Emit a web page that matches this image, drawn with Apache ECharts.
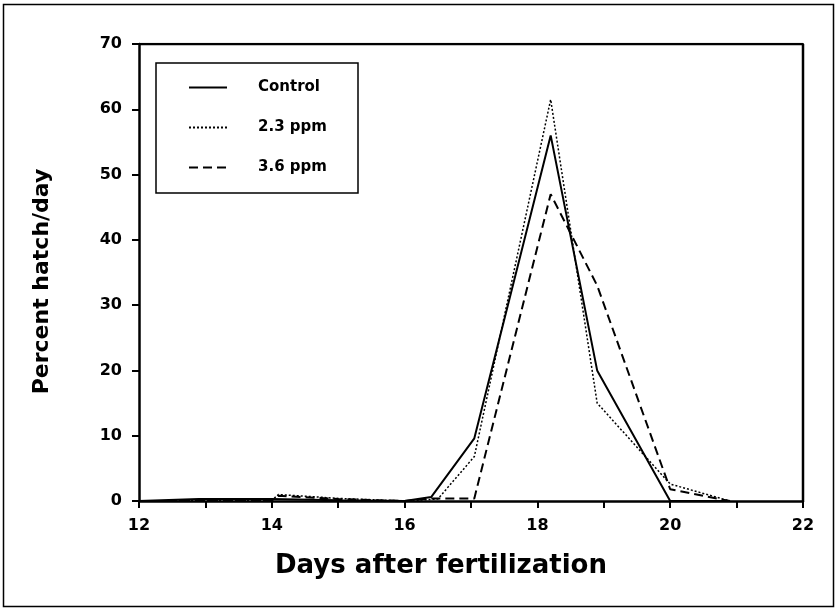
<!DOCTYPE html>
<html>
<head>
<meta charset="utf-8">
<script src="https://cdn.jsdelivr.net/npm/echarts@6/dist/echarts.min.js"></script>
<style>html,body{margin:0;padding:0;background:#fff}#c{width:838px;height:609px}</style>
</head>
<body>
<div id="c"></div>
<script>
// Data (x = days after fertilization, y = percent hatch/day)
const controlData = [[12,0],[12.9,0.3],[14,0.3],[15,0.1],[16,0],[16.4,0.6],[17.05,9.6],[18.2,56],[18.9,20],[20,0],[20.9,0]];
const ppm23Data = [[12,0],[14,0.1],[14.1,1.0],[15,0.4],[16,0],[16.5,0.3],[17.05,6.8],[18.2,61.5],[18.9,15],[20,2.6],[20.9,0]];
const ppm36Data = [[12,0],[14,0.1],[14.1,0.8],[15,0.3],[16,0],[16.4,0.4],[17.05,0.4],[18.2,47],[18.9,33],[20,1.8],[20.9,0]];
const seriesNames = ['Control','2.3 ppm','3.6 ppm'];
const xTickLabels = [12,14,16,18,20,22];
const yTickLabels = [0,10,20,30,40,50,60,70];

const font = '"DejaVu Sans", "Liberation Sans", Arial, sans-serif';
const chart = echarts.init(document.getElementById('c'), null, {renderer:'canvas'});
chart.setOption({
  animation:false,
  backgroundColor:'#fff',
  graphic:[
    {type:'rect',shape:{x:3.5,y:4.5,width:830,height:602},style:{fill:'none',stroke:'#000',lineWidth:1.5},silent:true},
    {type:'rect',shape:{x:156,y:63,width:202,height:130},style:{fill:'none',stroke:'#000',lineWidth:1.5},silent:true,z:10}
  ],
  grid:{left:139,right:35,top:44,bottom:108,show:false},
  legend:{
    orient:'vertical',left:156,top:63,
    data:seriesNames,
    borderWidth:0,
    padding:[17,20,14,32],
    itemWidth:38,itemHeight:14,itemGap:25,
    itemStyle:{opacity:0},
    textStyle:{fontFamily:font,fontWeight:'bold',fontSize:15,color:'#000',padding:[0,0,0,26]}
  },
  xAxis:{
    type:'value',min:12,max:22,interval:1,
    name:'Days after fertilization',nameLocation:'middle',nameGap:52,
    nameTextStyle:{fontFamily:font,fontWeight:'bold',fontSize:26,color:'#000',padding:[0,60,0,0]},
    axisLine:{show:true,onZero:false,lineStyle:{color:'#000',width:2.5}},
    axisTick:{show:true,inside:false,length:7,lineStyle:{color:'#000',width:2}},
    axisLabel:{fontFamily:font,fontWeight:'bold',fontSize:16,color:'#000',margin:17,
      formatter:function(v){return xTickLabels.indexOf(v)>=0?String(v):'';}},
    splitLine:{show:false}
  },
  yAxis:{
    type:'value',min:0,max:70,interval:10,
    name:'Percent hatch/day',nameLocation:'middle',nameGap:86,
    nameTextStyle:{fontFamily:font,fontWeight:'bold',fontSize:22,color:'#000',padding:[0,18,0,0]},
    axisLine:{show:true,lineStyle:{color:'#000',width:2.5}},
    axisTick:{show:true,inside:false,length:7,lineStyle:{color:'#000',width:2}},
    axisLabel:{fontFamily:font,fontWeight:'bold',fontSize:16,color:'#000',margin:17,
      formatter:function(v){return yTickLabels.indexOf(v)>=0?String(v):'';}},
    splitLine:{show:false}
  },
  series:[
    {name:seriesNames[0],type:'line',data:controlData,symbol:'none',lineStyle:{color:'#000',width:2,type:'solid'},itemStyle:{color:'#000'},z:3},
    {name:seriesNames[1],type:'line',data:ppm23Data,symbol:'none',lineStyle:{color:'#000',width:1.5,type:[2,2]},itemStyle:{color:'#000'},z:2},
    {name:seriesNames[2],type:'line',data:ppm36Data,symbol:'none',lineStyle:{color:'#000',width:2,type:[9,5]},itemStyle:{color:'#000'},z:2},
    // top/right edges of the plot frame
    {type:'line',data:[[12,70],[22,70],[22,0]],symbol:'none',lineStyle:{color:'#000',width:2.5},silent:true,z:1}
  ]
});
</script>
</body>
</html>
